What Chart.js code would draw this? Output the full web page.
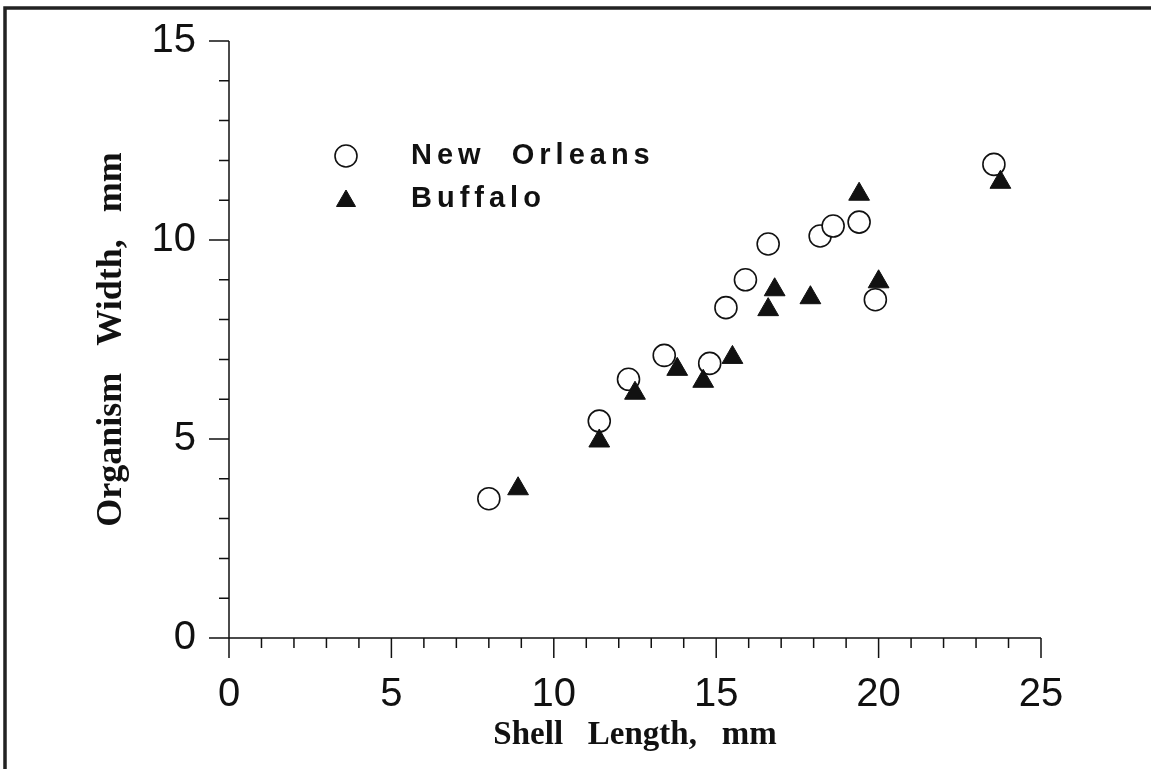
<!DOCTYPE html>
<html>
<head>
<meta charset="utf-8">
<script src="https://cdn.jsdelivr.net/npm/chart.js@4/dist/chart.umd.min.js"></script>
<style>
  html, body { margin: 0; padding: 0; background: #fff; }
  canvas { display: block; }
</style>
</head>
<body>
<canvas id="chart" width="1151" height="769"></canvas>
<script>
// New Orleans (open circles)
const noLength = [8.0, 11.4, 12.3, 13.4, 14.8, 15.3, 15.9, 16.6, 18.2, 18.6, 19.4, 19.9, 23.55];
const noWidth  = [3.5, 5.45, 6.5, 7.1, 6.9, 8.3, 9.0, 9.9, 10.1, 10.35, 10.45, 8.5, 11.9];

// Buffalo (filled triangles)
const bufLength = [8.9, 11.4, 12.5, 13.8, 14.6, 15.5, 16.6, 16.8, 17.9, 19.4, 20.0, 23.75];
const bufWidth  = [3.75, 4.95, 6.15, 6.75, 6.45, 7.05, 8.25, 8.75, 8.55, 11.15, 8.95, 11.45];

const xTicks = [0, 5, 10, 15, 20, 25];
const yTicks = [0, 5, 10, 15];

const ink = '#111';

function pts(xs, ys) {
  return xs.map((x, i) => ({ x: x, y: ys[i] }));
}

// frame, axis lines, minor/major tick marks and the legend
const decorations = {
  id: 'decorations',
  afterDraw(chart) {
    const ctx = chart.ctx;
    const xs = chart.scales.x, ys = chart.scales.y;
    const ax = xs.getPixelForValue(0);
    const ay = ys.getPixelForValue(0);

    ctx.save();
    // outer frame (left and top edges)
    ctx.strokeStyle = '#222';
    ctx.lineWidth = 3.5;
    ctx.beginPath();
    ctx.moveTo(5, 769);
    ctx.lineTo(5, 8);
    ctx.lineTo(1151, 8);
    ctx.stroke();

    // axes and ticks
    ctx.strokeStyle = ink;
    ctx.lineWidth = 1.5;
    ctx.beginPath();
    ctx.moveTo(ax, ys.getPixelForValue(15));
    ctx.lineTo(ax, ay);
    ctx.lineTo(xs.getPixelForValue(25), ay);
    for (let v = 0; v <= 25; v++) {
      const px = xs.getPixelForValue(v);
      const len = v % 5 === 0 ? 20 : 10;
      ctx.moveTo(px, ay);
      ctx.lineTo(px, ay + len);
    }
    for (let v = 0; v <= 15; v++) {
      const py = ys.getPixelForValue(v);
      const len = v % 5 === 0 ? 20 : 10;
      ctx.moveTo(ax, py);
      ctx.lineTo(ax - len, py);
    }
    ctx.stroke();

    // legend
    const lx = 346, ly = 156, gap = 43;
    ctx.font = 'bold 29px "Liberation Sans", Arial, sans-serif';
    ctx.textBaseline = 'middle';
    ctx.textAlign = 'left';
    if ('letterSpacing' in ctx) ctx.letterSpacing = '5px';
    chart.data.datasets.forEach((ds, i) => {
      const y = ly + i * gap;
      ctx.fillStyle = ds.backgroundColor;
      ctx.strokeStyle = ds.borderColor;
      ctx.lineWidth = ds.borderWidth;
      const cy = ds.pointStyle === 'triangle' ? y + 2 : y;
      Chart.helpers.drawPoint(ctx, { pointStyle: ds.pointStyle, radius: 11, rotation: 0, borderWidth: ds.borderWidth }, lx, cy);
      ctx.fillStyle = ink;
      ctx.fillText(ds.label, 411, y);
    });
    ctx.restore();
  }
};

new Chart(document.getElementById('chart'), {
  type: 'scatter',
  data: {
    datasets: [
      {
        label: 'New  Orleans',
        data: pts(noLength, noWidth),
        pointStyle: 'circle',
        pointRadius: 11,
        borderWidth: 1.6,
        borderColor: ink,
        backgroundColor: '#fff',
        order: 2
      },
      {
        label: 'Buffalo',
        data: pts(bufLength, bufWidth),
        pointStyle: 'triangle',
        pointRadius: 12,
        borderWidth: 1,
        borderColor: ink,
        backgroundColor: ink,
        order: 1
      }
    ]
  },
  options: {
    responsive: false,
    animation: false,
    events: [],
    layout: { padding: { left: 0, top: 41, right: 110, bottom: 0 } },
    plugins: {
      legend: { display: false },
      tooltip: { enabled: false }
    },
    scales: {
      x: {
        type: 'linear',
        min: 0,
        max: 25,
        afterFit(scale) {
          scale.height = 131;
          scale.paddingLeft = 0;
          scale.paddingRight = 0;
        },
        afterBuildTicks(scale) { scale.ticks = xTicks.map(v => ({ value: v })); },
        grid: { display: false, drawTicks: false },
        border: { display: false },
        ticks: {
          padding: 33,
          color: ink,
          maxRotation: 0,
          font: { family: '"Liberation Sans", Arial, sans-serif', size: 40 }
        },
        title: {
          display: true,
          text: 'Shell   Length,   mm',
          color: ink,
          padding: { top: 0, bottom: 14 },
          font: { family: '"Liberation Serif", "Times New Roman", serif', size: 33, weight: 'bold' }
        }
      },
      y: {
        type: 'linear',
        min: 0,
        max: 15,
        afterFit(scale) {
          scale.width = 229;
          scale.paddingTop = 0;
          scale.paddingBottom = 0;
        },
        afterBuildTicks(scale) { scale.ticks = yTicks.map(v => ({ value: v })); },
        grid: { display: false, drawTicks: false },
        border: { display: false },
        ticks: {
          padding: 33,
          color: ink,
          font: { family: '"Liberation Sans", Arial, sans-serif', size: 40 }
        },
        title: {
          display: true,
          text: 'Organism   Width,   mm',
          color: ink,
          padding: { top: 90, bottom: 0 },
          font: { family: '"Liberation Serif", "Times New Roman", serif', size: 36, weight: 'bold' }
        }
      }
    }
  },
  plugins: [decorations]
});
</script>
</body>
</html>
